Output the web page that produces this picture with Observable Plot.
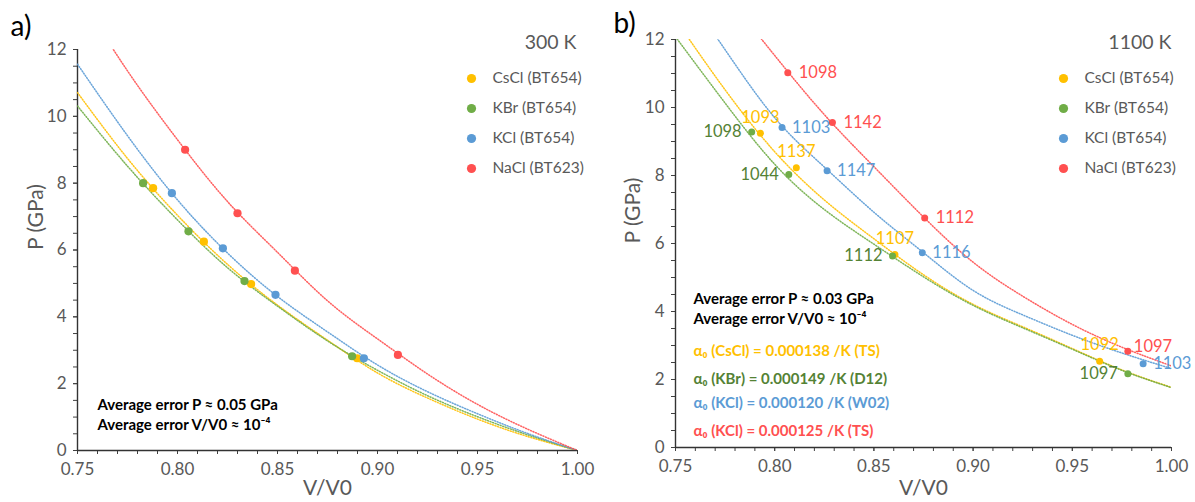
<!DOCTYPE html>
<html><head><meta charset="utf-8">
<script src="https://cdn.jsdelivr.net/npm/d3@7"></script>
<script src="https://cdn.jsdelivr.net/npm/@observablehq/plot@0.6"></script>
<style>
body{margin:0;background:#fff;}
#wrap{position:relative;width:1195px;height:502px;overflow:hidden;background:#fff;}
#left{position:absolute;left:0;top:0;}
#right{position:absolute;left:600px;top:0;}
</style></head><body><div id="wrap"><div id="left"></div><div id="right"></div></div>
<script>
// ---------- categories / styling ----------
const salts = ["CsCl (BT654)", "KBr (BT654)", "KCl (BT654)", "NaCl (BT623)"];
const colors = ["#FFC000", "#70AD47", "#5B9BD5", "#FF5050"];
const labelColors = ["#FFC000", "#548235", "#5B9BD5", "#FF5050"];

// ---------- tick labels ----------
const xTicks = [0.75, 0.80, 0.85, 0.90, 0.95, 1.00];
const yTicks = [0, 2, 4, 6, 8, 10, 12];
const xMinor = d3.range(0, 26).map(i => +(0.75 + i * 0.01).toFixed(2));
const yMinor = d3.range(0, 25).map(i => i * 0.5);

// ---------- 300 K measured points ----------
const v300_CsCl = [0.7878, 0.8132, 0.8368, 0.8898];
const p300_CsCl = [7.85, 6.25, 4.98, 2.76];
const v300_KBr = [0.7828, 0.8055, 0.8335, 0.8873];
const p300_KBr = [8.00, 6.56, 5.07, 2.82];
const v300_KCl = [0.7972, 0.8227, 0.8490, 0.8932];
const p300_KCl = [7.70, 6.05, 4.66, 2.76];
const v300_NaCl = [0.8038, 0.8300, 0.8587, 0.9102];
const p300_NaCl = [9.00, 7.10, 5.38, 2.86];

// ---------- 300 K fitted curves ----------
const vFit = [0.75, 0.775, 0.80, 0.825, 0.85, 0.875, 0.90, 0.925, 0.95, 0.975, 1.00];
const fit300_CsCl = [10.71, 8.74, 7.04, 5.57, 4.35, 3.30, 2.32, 1.57, 0.94, 0.42, 0];
const fit300_KBr = [10.31, 8.51, 6.90, 5.47, 4.32, 3.28, 2.40, 1.64, 1.01, 0.47, 0];
const fit300_KCl = [11.56, 9.42, 7.50, 5.91, 4.61, 3.55, 2.56, 1.76, 1.10, 0.51, 0];
const fit300_NaCl = [13.70, 11.36, 9.30, 7.45, 5.93, 4.48, 3.34, 2.29, 1.38, 0.64, 0];

// ---------- 1100 K measured points + temperature labels ----------
const v1100_CsCl = [0.7928, 0.8109, 0.8606, 0.9638];
const p1100_CsCl = [9.24, 8.23, 5.68, 2.54];
const t1100_CsCl = ["1093", "1137", "1107", "1092"];
const v1100_KBr = [0.7884, 0.8071, 0.8594, 0.9780];
const p1100_KBr = [9.28, 8.03, 5.63, 2.17];
const t1100_KBr = ["1098", "1044", "1112", "1097"];
const v1100_KCl = [0.8037, 0.8264, 0.8744, 0.9857];
const p1100_KCl = [9.41, 8.14, 5.73, 2.46];
const t1100_KCl = ["1103", "1147", "1116", "1103"];
const v1100_NaCl = [0.8066, 0.8291, 0.8756, 0.9780];
const p1100_NaCl = [11.02, 9.56, 6.75, 2.83];
const t1100_NaCl = ["1098", "1142", "1112", "1097"];

// ---------- 1100 K fitted curves ----------
const fit1100_CsCl = [12.59, 10.52, 8.70, 7.28, 6.14, 5.08, 4.21, 3.55, 2.91, 2.28, 1.77];
const fit1100_KBr = [12.08, 10.13, 8.33, 7.00, 5.98, 5.02, 4.18, 3.52, 2.89, 2.27, 1.76];
const fit1100_KCl = [13.80, 11.70, 9.70, 8.25, 6.92, 5.73, 4.62, 3.90, 3.30, 2.78, 2.32];
const fit1100_NaCl = [15.50, 13.40, 11.53, 9.79, 8.26, 6.78, 5.45, 4.45, 3.62, 2.95, 2.40];

// ---------- annotation texts ----------
const notes300 = ["Average error P \u2248 0.05 GPa", "Average error V/V0 \u2248 10\u207B\u2074"];
const notes1100 = ["Average error P \u2248 0.03 GPa", "Average error V/V0 \u2248 10\u207B\u2074"];
const alphaNotes = [
  "\u03B1\u2080 (CsCl) = 0.000138 /K (TS)",
  "\u03B1\u2080 (KBr) = 0.000149 /K (D12)",
  "\u03B1\u2080 (KCl) = 0.000120 /K (W02)",
  "\u03B1\u2080 (KCl) = 0.000125 /K (TS)"
];

const FONT = "Lato, 'Open Sans', sans-serif";
const zip = (vs, ps, ts) => vs.map((v, i) => ({v, p: ps[i], t: ts ? ts[i] : null}));

function axes() {
  return [
    Plot.axisX(xMinor, {tickSize: 4, stroke: "#404040", tickFormat: () => "", label: null}),
    Plot.axisX(xTicks, {tickSize: 4, tickPadding: 8, stroke: "#404040", fill: "#595959", fontSize: 17,
      tickFormat: d => d.toFixed(2), label: null}),
    Plot.axisY(yMinor, {tickSize: 4, stroke: "#404040", tickFormat: () => "", label: null}),
    Plot.axisY(yTicks, {tickSize: 4, tickPadding: 7, stroke: "#404040", fill: "#595959", fontSize: 17,
      tickFormat: d => String(d), label: null}),
    Plot.ruleY([0], {stroke: "#333", strokeWidth: 1.4}),
    Plot.ruleX([0.75], {stroke: "#333", strokeWidth: 1.4})
  ];
}

function legend(dxDot, dyTop) {
  const m = [];
  salts.forEach((s, i) => {
    m.push(Plot.dot([s], {frameAnchor: "top-left", dx: dxDot, dy: dyTop + 30 * i, r: 4.6, fill: colors[i], stroke: "none"}));
    m.push(Plot.text([s], {text: d => d, frameAnchor: "top-left", dx: dxDot + 21, dy: dyTop + 30 * i,
      textAnchor: "start", lineAnchor: "middle", fill: "#595959", fontSize: 15.5}));
  });
  return m;
}

function curves(fits) {
  return fits.map((f, i) => Plot.line(zip(vFit, f), {x: "v", y: "p", stroke: colors[i], strokeWidth: 1.5,
    strokeOpacity: 0.9, strokeDasharray: "1,1.7", curve: "natural", clip: true}));
}

// ---------- left panel (300 K) ----------
const pts300 = [zip(v300_CsCl, p300_CsCl), zip(v300_KBr, p300_KBr), zip(v300_KCl, p300_KCl), zip(v300_NaCl, p300_NaCl)];
const left = Plot.plot({
  width: 600, height: 502,
  marginLeft: 77, marginRight: 23, marginTop: 49, marginBottom: 52,
  style: {fontFamily: FONT, background: "white"},
  x: {domain: [0.75, 1.0]},
  y: {domain: [0, 12]},
  marks: [
    ...axes(),
    ...curves([fit300_CsCl, fit300_KBr, fit300_KCl, fit300_NaCl]),
    ...pts300.map((d, i) => Plot.dot(d, {x: "v", y: "p", r: 4.1, fill: colors[i], stroke: "none"})),
    ...legend(394, 29),
    Plot.text(["300 K"], {text: d => d, frameAnchor: "top-right", dx: -1, dy: -7, textAnchor: "end",
      lineAnchor: "middle", fontSize: 19.5, fill: "#595959"}),
    Plot.text(["a)"], {text: d => d, frameAnchor: "top-left", dx: -67, dy: -22, textAnchor: "start",
      lineAnchor: "middle", fontSize: 28, fill: "#000"}),
    Plot.text(["V/V0"], {text: d => d, frameAnchor: "bottom", dy: 38, lineAnchor: "middle", fontSize: 21, fill: "#595959"}),
    Plot.text(["P (GPa)"], {text: d => d, frameAnchor: "left", dx: -41, rotate: -90, lineAnchor: "middle", fontSize: 21, fill: "#595959"}),
    ...notes300.map((t, i) => Plot.text([t], {text: d => d, frameAnchor: "bottom-left", dx: 20, dy: -45 + 20 * i,
      textAnchor: "start", lineAnchor: "middle", fontSize: 15, fontWeight: "bold", fill: "#000"}))
  ]
});
document.getElementById("left").appendChild(left);

// ---------- right panel (1100 K) ----------
const pts1100 = [zip(v1100_CsCl, p1100_CsCl, t1100_CsCl), zip(v1100_KBr, p1100_KBr, t1100_KBr),
                 zip(v1100_KCl, p1100_KCl, t1100_KCl), zip(v1100_NaCl, p1100_NaCl, t1100_NaCl)];
const alphaDy = [-96, -68, -44, -16];
const right = Plot.plot({
  width: 595, height: 502,
  marginLeft: 75, marginRight: 24, marginTop: 39, marginBottom: 55,
  style: {fontFamily: FONT, background: "white"},
  x: {domain: [0.75, 1.0]},
  y: {domain: [0, 12]},
  marks: [
    ...axes(),
    ...curves([fit1100_CsCl, fit1100_KBr, fit1100_KCl, fit1100_NaCl]),
    ...pts1100.map((d, i) => Plot.dot(d, {x: "v", y: "p", r: 3.5, fill: colors[i], stroke: "none"})),
    // temperature labels
    Plot.text(pts1100[0], {x: "v", y: "p", text: "t", dy: -16, textAnchor: "middle", lineAnchor: "middle", fontSize: 16.5, fill: labelColors[0]}),
    Plot.text(pts1100[1], {x: "v", y: "p", text: "t", dx: -10, textAnchor: "end", lineAnchor: "middle", fontSize: 16.5, fill: labelColors[1]}),
    Plot.text(pts1100[2], {x: "v", y: "p", text: "t", dx: 10, textAnchor: "start", lineAnchor: "middle", fontSize: 16.5, fill: labelColors[2]}),
    Plot.text(pts1100[3].slice(0, 3), {x: "v", y: "p", text: "t", dx: 11, textAnchor: "start", lineAnchor: "middle", fontSize: 16.5, fill: labelColors[3]}),
    Plot.text(pts1100[3].slice(3), {x: "v", y: "p", text: "t", dx: 6, dy: -5, textAnchor: "start", lineAnchor: "middle", fontSize: 16.5, fill: labelColors[3]}),
    ...legend(388, 39),
    Plot.text(["1100 K"], {text: d => d, frameAnchor: "top-right", dx: 0, dy: 3, textAnchor: "end",
      lineAnchor: "middle", fontSize: 19.5, fill: "#595959"}),
    Plot.text(["b)"], {text: d => d, frameAnchor: "top-left", dx: -62, dy: -15, textAnchor: "start",
      lineAnchor: "middle", fontSize: 28, fill: "#000"}),
    Plot.text(["V/V0"], {text: d => d, frameAnchor: "bottom", dy: 41, lineAnchor: "middle", fontSize: 21, fill: "#595959"}),
    Plot.text(["P (GPa)"], {text: d => d, frameAnchor: "left", dx: -42, rotate: -90, lineAnchor: "middle", fontSize: 21, fill: "#595959"}),
    ...notes1100.map((t, i) => Plot.text([t], {text: d => d, frameAnchor: "bottom-left", dx: 18, dy: -148 + 19.5 * i,
      textAnchor: "start", lineAnchor: "middle", fontSize: 15, fontWeight: "bold", fill: "#000"})),
    ...alphaNotes.map((t, i) => Plot.text([t], {text: d => d, frameAnchor: "bottom-left", dx: 18, dy: alphaDy[i],
      textAnchor: "start", lineAnchor: "middle", fontSize: 15, fontWeight: "bold", fill: labelColors[i]}))
  ]
});
document.getElementById("right").appendChild(right);
</script></body></html>
